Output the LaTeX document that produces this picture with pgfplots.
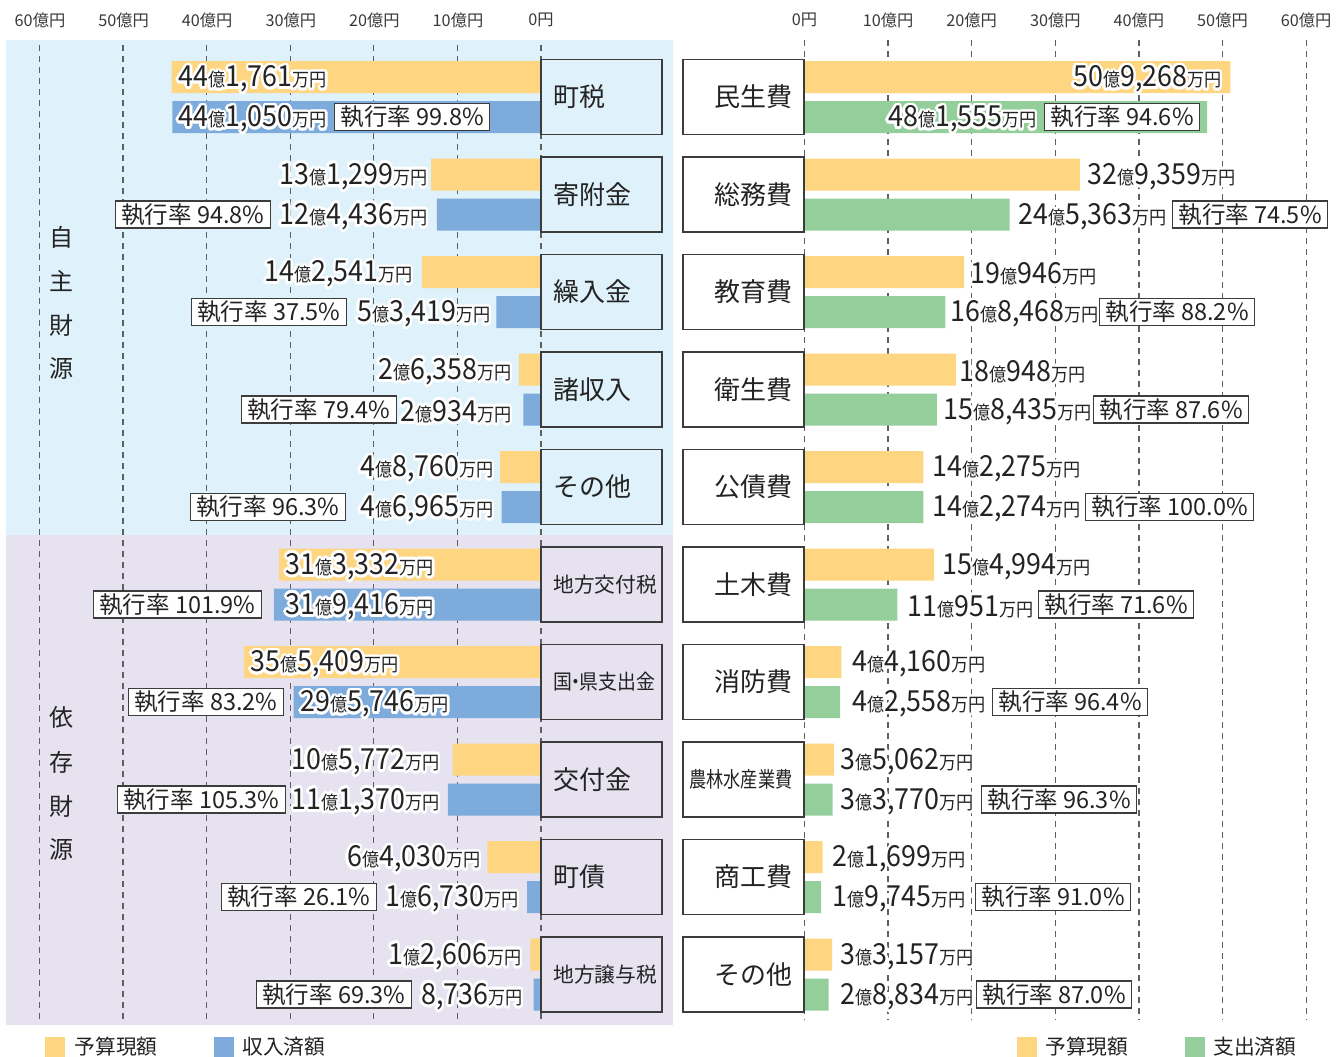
\documentclass[border=0pt]{standalone}
\usepackage{fontspec}
\setmainfont{Noto Sans CJK JP}
\usepackage{graphicx}
\usepackage{pgfplots}
\pgfplotsset{compat=1.18}
\usepackage{pgfplotstable}
\usepackage[copies]{contour}
\contourlength{1.1pt}
\contournumber{20}

\definecolor{cYel}{RGB}{254,213,128}
\definecolor{cBlu}{RGB}{124,171,220}
\definecolor{cGrn}{RGB}{148,206,155}
\definecolor{cBgB}{RGB}{223,241,251}
\definecolor{cBgL}{RGB}{230,226,240}
\definecolor{cGrid}{RGB}{95,95,95}
\definecolor{cLine}{RGB}{60,60,60}
\definecolor{cTxt}{RGB}{35,35,35}

\newcommand\Dg[1]{{\fontsize{11.6}{14}\selectfont #1}}
\newcommand\Sm[1]{{\fontsize{7.4}{8}\selectfont #1}}
\newcommand\V[2]{\scalebox{0.925}[1]{\contour{white}{\Dg{#1}\Sm{億}\Dg{#2}\Sm{万円}}}}
\newcommand\W[1]{\scalebox{0.925}[1]{\contour{white}{\Dg{#1}\Sm{万円}}}}

\pgfplotstableread{
yb ya b a
77 117 44.1761 44.1050
174.5 214.5 13.1299 12.4436
272 312 14.2541 5.3419
369.5 409.5 2.6358 2.0934
467 507 4.8760 4.6965
564.5 604.5 31.3332 31.9416
662 702 35.5409 29.5746
759.5 799.5 10.5772 11.1370
857 897 6.4030 1.6730
954.5 994.5 1.2606 0.8736
}\rev

\pgfplotstableread{
yb ya b a
77 117 50.9268 48.1555
174.5 214.5 32.9359 24.5363
272 312 19.0946 16.8468
369.5 409.5 18.0948 15.8435
467 507 14.2275 14.2274
564.5 604.5 15.4994 11.0951
662 702 4.4160 4.2558
759.5 799.5 3.5062 3.3770
857 897 2.1699 1.9745
954.5 994.5 3.3157 2.8834
}\expd

\tikzset{
  rate/.style={draw=cLine, fill=white, line width=0.5pt, inner xsep=2.4pt, inner ysep=0pt,
    minimum height=10.8pt, font=\fontsize{9.4}{10}\selectfont, text=cTxt},
  val/.style={inner sep=0pt, text=cTxt, yshift=-1.4pt},
  grd/.style={draw=cGrid, line width=0.5pt, dash pattern=on 2.2pt off 2.2pt},
}

\begin{document}
\begin{tikzpicture}
\useasboundingbox (0,0) rectangle (536.4pt,-422.8pt);
% ---------- left panel (revenue) ----------
\begin{axis}[at={(0,0)}, anchor=north west, scale only axis,
  width=270pt, height=422.8pt,
  xmin=-16.03, xmax=64.71, x dir=reverse,
  ymin=0, ymax=1057, y dir=reverse,
  hide axis, clip=false]
\addplot[fill=cBgB, draw=none] coordinates {(64,40) (-15.79,40) (-15.79,535) (64,535)} -- cycle;
\addplot[fill=cBgL, draw=none] coordinates {(64,535) (-15.79,535) (-15.79,1025) (64,1025)} -- cycle;
\pgfplotsinvokeforeach{0,10,20,30,40,50,60}{
  \addplot[grd] coordinates {(#1,45) (#1,1022)};
}
\addplot[xbar, bar shift=0pt, bar width=32, fill=cYel, draw=none] table[x=b, y=yb] {\rev};
\addplot[xbar, bar shift=0pt, bar width=32, fill=cBlu, draw=none] table[x=a, y=ya] {\rev};
\end{axis}
% ---------- right panel (expenditure) ----------
\begin{axis}[at={(270pt,0)}, anchor=north west, scale only axis,
  width=266.4pt, height=422.8pt,
  xmin=-15.49, xmax=64.17,
  ymin=0, ymax=1057, y dir=reverse,
  hide axis, clip=false]
\pgfplotsinvokeforeach{0,10,20,30,40,50,60}{
  \addplot[grd] coordinates {(#1,40) (#1,1020)};
}
\addplot[xbar, bar shift=0pt, bar width=32, fill=cYel, draw=none] table[x=b, y=yb] {\expd};
\addplot[xbar, bar shift=0pt, bar width=32, fill=cGrn, draw=none] table[x=a, y=ya] {\expd};
\end{axis}

\begin{scope}[x=0.4pt, y=-0.4pt]
% tick labels
\begin{scope}[every node/.style={font=\fontsize{6.5}{7}\selectfont, text=cTxt!90}]
\node at (40,20) {60億円};
\node at (123.6,20) {50億円};
\node at (207.2,20) {40億円};
\node at (290.8,20) {30億円};
\node at (374.4,20) {20億円};
\node at (458,20) {10億円};
\node at (541,20) {0円};
\node at (804.5,20) {0円};
\node at (888.1,20) {10億円};
\node at (971.7,20) {20億円};
\node at (1055.3,20) {30億円};
\node at (1138.9,20) {40億円};
\node at (1222.5,20) {50億円};
\node at (1306.1,20) {60億円};
\end{scope}
% category boxes
\foreach \yc in {97,194.5,292,389.5,487,584.5,682,779.5,877,974.5}{
  \draw[cLine, line width=0.55pt] (541,\yc-37.5) rectangle (662,\yc+37.5);
  \draw[cLine, line width=0.55pt] (683,\yc-37.5) rectangle (804,\yc+37.5);
}
\begin{scope}[every node/.style={font=\fontsize{10.4}{12}\selectfont, text=cTxt, inner sep=0pt}]
\node[anchor=west] at (553,97) {町税};
\node[anchor=west] at (553,194.5) {寄附金};
\node[anchor=west] at (553,292) {繰入金};
\node[anchor=west] at (553,389.5) {諸収入};
\node[anchor=west] at (553,487) {その他};
\node[anchor=west] at (553,779.5) {交付金};
\node[anchor=west] at (553,877) {町債};
\node[anchor=east] at (793,97) {民生費};
\node[anchor=east] at (793,194.5) {総務費};
\node[anchor=east] at (793,292) {教育費};
\node[anchor=east] at (793,389.5) {衛生費};
\node[anchor=east] at (793,487) {公債費};
\node[anchor=east] at (793,584.5) {土木費};
\node[anchor=east] at (793,682) {消防費};
\node[anchor=east] at (793,877) {商工費};
\node[anchor=east] at (793,974.5) {その他};
\end{scope}
\begin{scope}[every node/.style={font=\fontsize{8.3}{10}\selectfont, text=cTxt, inner sep=0pt}]
\node[anchor=west] at (553,584.5) {地方交付税};
\node[anchor=west] at (553,682) {\scalebox{0.91}[1]{国\makebox[0.4em]{・}県支出金}};
\node[anchor=west] at (553,974.5) {地方譲与税};
\node[anchor=east] at (793,779.5) {\scalebox{0.8}[1]{\fontsize{8.6}{10}\selectfont 農林水産業費}};
\end{scope}
% group labels
\begin{scope}[every node/.style={font=\fontsize{9.6}{11}\selectfont, text=cTxt}]
\node at (62,237) {自}; \node at (62,281) {主}; \node at (62,325) {財}; \node at (62,369) {源};
\node at (62,717) {依}; \node at (62,762) {存}; \node at (62,806) {財}; \node at (62,850) {源};
\end{scope}
% left value labels
\node[val, anchor=west] at (178,77) {\V{44}{1,761}};
\node[val, anchor=west] at (178,117) {\V{44}{1,050}};
\node[val, anchor=east] at (428,174.5) {\V{13}{1,299}};
\node[val, anchor=east] at (428,214.5) {\V{12}{4,436}};
\node[val, anchor=east] at (413,272) {\V{14}{2,541}};
\node[val, anchor=east] at (491,312) {\V{5}{3,419}};
\node[val, anchor=east] at (512,369.5) {\V{2}{6,358}};
\node[val, anchor=east] at (512,409.5) {\V{2}{934}};
\node[val, anchor=east] at (494,467) {\V{4}{8,760}};
\node[val, anchor=east] at (494,507) {\V{4}{6,965}};
\node[val, anchor=west] at (285,564.5) {\V{31}{3,332}};
\node[val, anchor=west] at (285,604.5) {\V{31}{9,416}};
\node[val, anchor=west] at (250,662) {\V{35}{5,409}};
\node[val, anchor=west] at (300,702) {\V{29}{5,746}};
\node[val, anchor=east] at (440,759.5) {\V{10}{5,772}};
\node[val, anchor=east] at (440,799.5) {\V{11}{1,370}};
\node[val, anchor=east] at (481,857) {\V{6}{4,030}};
\node[val, anchor=east] at (519,897) {\V{1}{6,730}};
\node[val, anchor=east] at (522,954.5) {\V{1}{2,606}};
\node[val, anchor=east] at (523,994.5) {\W{8,736}};
% left rate boxes
\node[rate, anchor=west] at (334,117) {執行率 99.8\%};
\node[rate, anchor=east] at (271,214.5) {執行率 94.8\%};
\node[rate, anchor=east] at (347,312) {執行率 37.5\%};
\node[rate, anchor=east] at (397,409.5) {執行率 79.4\%};
\node[rate, anchor=east] at (346,507) {執行率 96.3\%};
\node[rate, anchor=east] at (262,604.5) {執行率 101.9\%};
\node[rate, anchor=east] at (284,702) {執行率 83.2\%};
\node[rate, anchor=east] at (286,799.5) {執行率 105.3\%};
\node[rate, anchor=east] at (377,897) {執行率 26.1\%};
\node[rate, anchor=east] at (412,994.5) {執行率 69.3\%};
% right value labels
\node[val, anchor=east] at (1222,77) {\V{50}{9,268}};
\node[val, anchor=east] at (1037,117) {\V{48}{1,555}};
\node[val, anchor=west] at (1087,174.5) {\V{32}{9,359}};
\node[val, anchor=west] at (1018,214.5) {\V{24}{5,363}};
\node[val, anchor=west] at (970,272) {\V{19}{946}};
\node[val, anchor=west] at (950,312) {\V{16}{8,468}};
\node[val, anchor=west] at (959,369.5) {\V{18}{948}};
\node[val, anchor=west] at (943,409.5) {\V{15}{8,435}};
\node[val, anchor=west] at (932,467) {\V{14}{2,275}};
\node[val, anchor=west] at (932,507) {\V{14}{2,274}};
\node[val, anchor=west] at (942,564.5) {\V{15}{4,994}};
\node[val, anchor=west] at (907,604.5) {\V{11}{951}};
\node[val, anchor=west] at (852,662) {\V{4}{4,160}};
\node[val, anchor=west] at (852,702) {\V{4}{2,558}};
\node[val, anchor=west] at (840,759.5) {\V{3}{5,062}};
\node[val, anchor=west] at (840,799.5) {\V{3}{3,770}};
\node[val, anchor=west] at (832,857) {\V{2}{1,699}};
\node[val, anchor=west] at (832,897) {\V{1}{9,745}};
\node[val, anchor=west] at (840,954.5) {\V{3}{3,157}};
\node[val, anchor=west] at (840,994.5) {\V{2}{8,834}};
% right rate boxes
\node[rate, anchor=west] at (1044,117) {執行率 94.6\%};
\node[rate, anchor=west] at (1172,214.5) {執行率 74.5\%};
\node[rate, anchor=west] at (1099,312) {執行率 88.2\%};
\node[rate, anchor=west] at (1093,409.5) {執行率 87.6\%};
\node[rate, anchor=west] at (1085,507) {執行率 100.0\%};
\node[rate, anchor=west] at (1038,604.5) {執行率 71.6\%};
\node[rate, anchor=west] at (992,702) {執行率 96.4\%};
\node[rate, anchor=west] at (981,799.5) {執行率 96.3\%};
\node[rate, anchor=west] at (975,897) {執行率 91.0\%};
\node[rate, anchor=west] at (976,994.5) {執行率 87.0\%};
% legends
\fill[cYel] (45,1037) rectangle (65,1057);
\fill[cBlu] (214,1037) rectangle (234,1057);
\fill[cYel] (1017,1037) rectangle (1037,1057);
\fill[cGrn] (1185,1037) rectangle (1205,1057);
\begin{scope}[every node/.style={font=\fontsize{8.3}{10}\selectfont, text=cTxt, inner sep=0pt, anchor=west}]
\node at (74,1047) {予算現額};
\node at (242,1047) {収入済額};
\node at (1045,1047) {予算現額};
\node at (1213,1047) {支出済額};
\end{scope}
\end{scope}
\end{tikzpicture}
\end{document}
